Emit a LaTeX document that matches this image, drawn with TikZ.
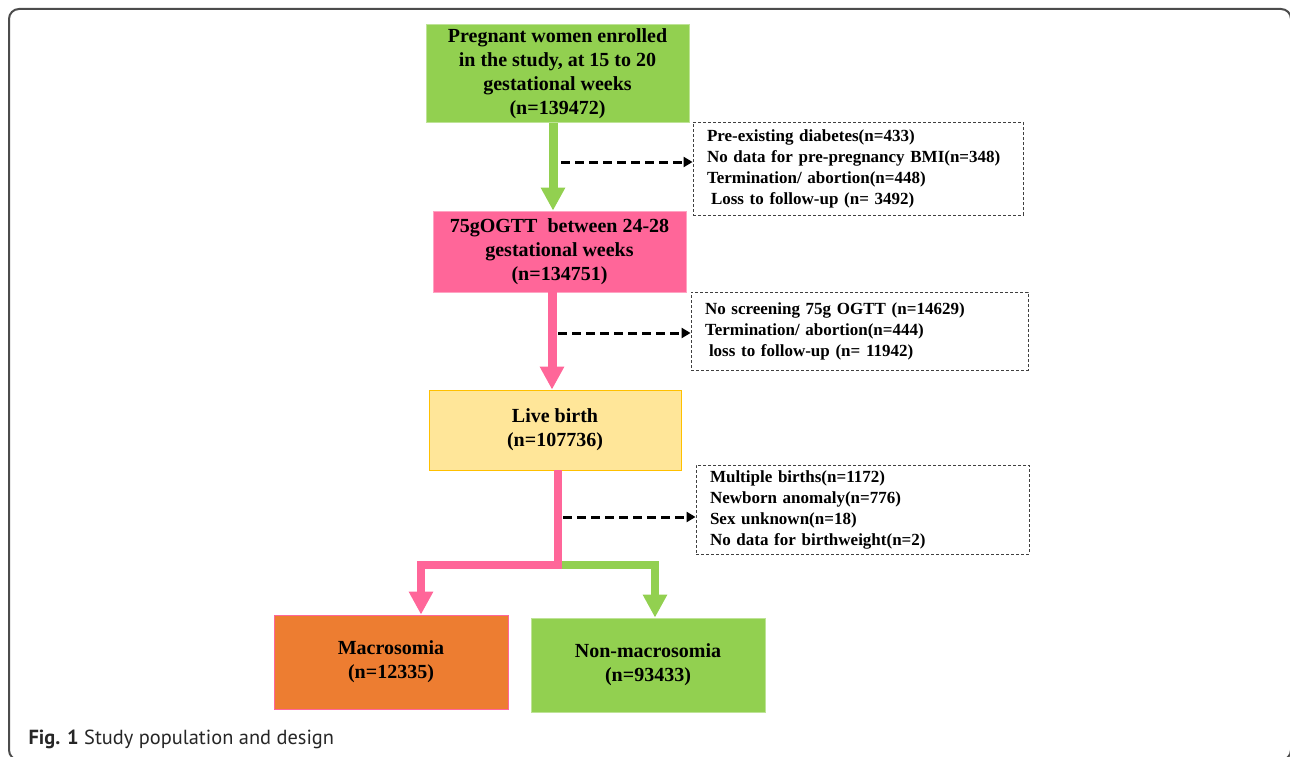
\documentclass[tikz,border=0pt]{standalone}
\usepackage{fontspec}
\setmainfont{Liberation Serif}
\setsansfont{PT Sans}
\usetikzlibrary{arrows.meta}

\definecolor{flowgreen}{HTML}{92D050}
\definecolor{flowpink}{HTML}{FF6699}
\definecolor{flowyellow}{HTML}{FFE699}
\definecolor{flowgold}{HTML}{FFC000}
\definecolor{floworange}{HTML}{ED7D31}

\tikzset{
  stage/.style={rectangle, inner sep=0pt, line width=0.8pt, align=center,
    font=\bfseries\fontsize{20}{24}\selectfont},
  exclbox/.style={rectangle, draw=black!75, line width=0.9pt,
    dash pattern=on 3pt off 2pt, inner xsep=14pt, inner ysep=0pt, align=left,
    font=\bfseries\fontsize{17}{21}\selectfont},
  flow/.style={line width=9pt, -{Triangle[width=23pt,length=23pt]}},
  dasharrow/.style={line width=3pt, dash pattern=on 9pt off 5pt,
    -{Triangle[width=10pt,length=9pt]}},
}

\begin{document}
\begin{tikzpicture}[x=1pt,y=-1pt]
                \useasboundingbox (0,0) rectangle (1290,757);
                \clip (0,0) rectangle (1290,757);
                \draw[black!70, line width=2pt, rounded corners=10pt] (9,9) rectangle (1291,760);

                % main stages
                \node[stage, fill=flowgreen, draw=flowgreen!60!white, minimum width=263pt, minimum height=98pt]
                    (enrol) at (557.5,73.5) {Pregnant women enrolled\\in the study, at 15 to 20\\gestational weeks\\(n=139472)};
                \node[stage, fill=flowpink, draw=flowpink!60!white, minimum width=253pt, minimum height=81pt]
                    (ogtt) at (559.5,251.5) {75gOGTT\ \ between 24-28\\gestational weeks\\(n=134751)};
                \node[stage, fill=flowyellow, draw=flowgold, minimum width=252pt, minimum height=80pt]
                    (live) at (555,430) {Live birth\\(n=107736)};
                \node[stage, fill=floworange, draw=flowpink, minimum width=234pt, minimum height=94pt]
                    (macro) at (391,662) {Macrosomia\\(n=12335)};
                \node[stage, fill=flowgreen, draw=flowgreen!60!white, minimum width=234pt, minimum height=94pt]
                    (nonmacro) at (648,665) {Non-macrosomia\\(n=93433)};

                % exclusions
                \node[exclbox, text width=302pt, minimum height=93pt] (excl1) at (858,168.5)
                    {Pre-existing diabetes(n=433)\\No data for pre-pregnancy BMI(n=348)\\Termination/ abortion(n=448)\\\hspace*{4pt}Loss to follow-up (n= 3492)};
                \node[exclbox, text width=309pt, minimum height=78pt] (excl2) at (859.5,331)
                    {No screening 75g OGTT (n=14629)\\Termination/ abortion(n=444)\\\hspace*{4pt}loss to follow-up (n= 11942)};
                \node[exclbox, text width=305pt, minimum height=89pt] (excl3) at (862.5,509.5)
                    {Multiple births(n=1172)\\Newborn anomaly(n=776)\\Sex unknown(n=18)\\No data for birthweight(n=2)};

                % flow
                \draw[flow, flowgreen] ([xshift=-4.5pt]enrol.south) -- ([xshift=-4.5pt]enrol.south |- ogtt.north);
                \draw[flow, flowpink] ([xshift=-7.5pt]ogtt.south) -- ([xshift=-7.5pt]ogtt.south |- live.north);

                \coordinate (cut1) at (561,162);
                \coordinate (cut2) at (558,333);
                \coordinate (cut3) at (563,517);
                \draw[dasharrow] (cut1) -- (cut1 -| excl1.west);
                \draw[dasharrow] (cut2) -- (cut2 -| excl2.west);
                \draw[dasharrow] (cut3) -- (cut3 -| excl3.west);

                % split
                \coordinate (fork) at (558,565);
                \draw[flow, flowgreen, line width=8pt] (fork) -| ([xshift=7pt]nonmacro.north);
                \draw[flow, flowpink, line width=8pt] (live.south -| fork) -- (fork) -| ([xshift=30pt]macro.north);

                \node[anchor=base west, text=black!85, font=\sffamily\fontsize{20.4}{24}\selectfont] (caption) at (25,744)
                    {\textbf{Fig. 1} Study population and design};
\end{tikzpicture}
\end{document}
